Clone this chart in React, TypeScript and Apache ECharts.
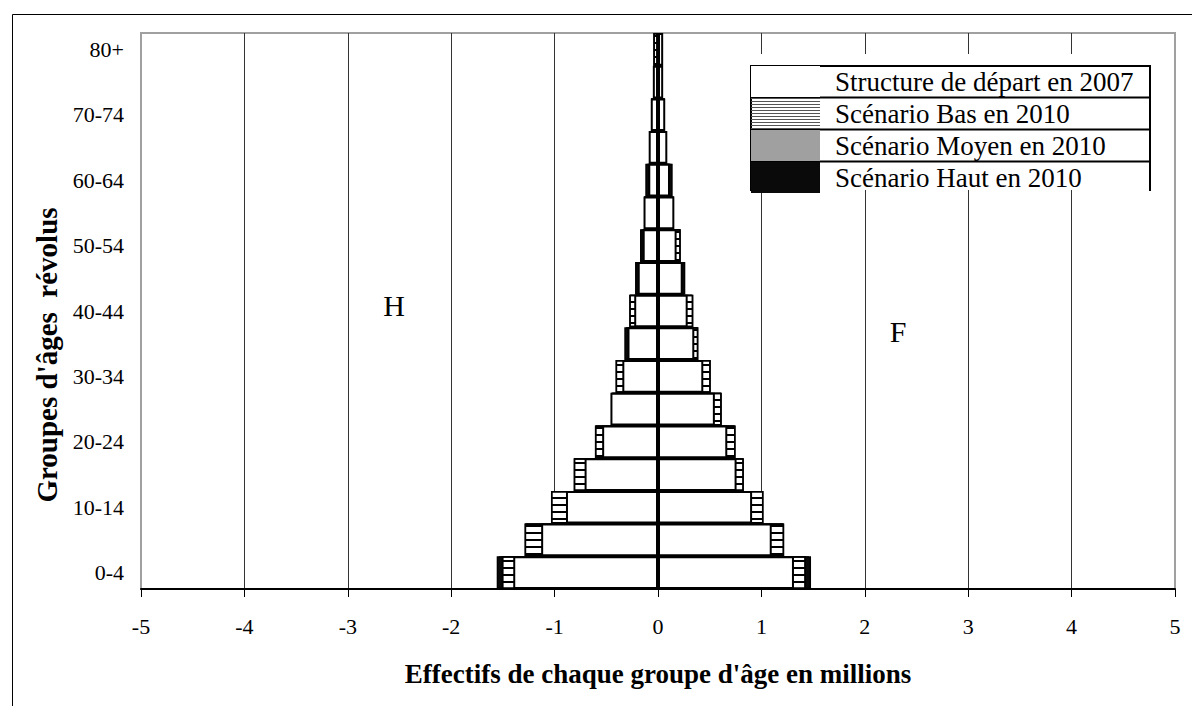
import React, { useEffect, useRef } from "react";
import * as echarts from "echarts";

const FONT = "'Liberation Serif', 'Times New Roman', Times, serif";

const ageGroups = [
  "0-4", "5-9", "10-14", "15-19", "20-24", "25-29", "30-34", "35-39", "40-44",
  "45-49", "50-54", "55-59", "60-64", "65-69", "70-74", "75-79", "80+",
];

// Hommes (millions)
const men2007 = [1.40, 1.13, 0.89, 0.71, 0.54, 0.46, 0.345, 0.295, 0.23, 0.196, 0.148, 0.14, 0.094, 0.09, 0.07, 0.05, 0.015];
const menBas = [1.51, 1.29, 1.035, 0.815, 0.61, 0.44, 0.41, 0.285, 0.278, 0.19, 0.14, 0.13, 0.09, 0.085, 0.065, 0.045, 0.045];
const menMoyen = [1.54, 1.28, 1.03, 0.81, 0.60, 0.45, 0.40, 0.31, 0.27, 0.21, 0.16, 0.135, 0.11, 0.085, 0.065, 0.045, 0.04];
const menHaut = [1.56, 1.28, 1.03, 0.81, 0.60, 0.45, 0.40, 0.326, 0.27, 0.222, 0.174, 0.135, 0.123, 0.085, 0.065, 0.045, 0.04];

// Femmes (millions)
const women2007 = [1.315, 1.10, 0.91, 0.76, 0.67, 0.55, 0.438, 0.351, 0.287, 0.239, 0.18, 0.158, 0.116, 0.09, 0.07, 0.05, 0.05];
const womenBas = [1.43, 1.22, 1.02, 0.83, 0.75, 0.616, 0.51, 0.39, 0.341, 0.23, 0.22, 0.15, 0.11, 0.085, 0.065, 0.045, 0.045];
const womenMoyen = [1.46, 1.21, 1.01, 0.82, 0.74, 0.61, 0.50, 0.38, 0.33, 0.25, 0.21, 0.15, 0.13, 0.085, 0.065, 0.045, 0.045];
const womenHaut = [1.48, 1.21, 1.01, 0.82, 0.74, 0.61, 0.50, 0.38, 0.33, 0.264, 0.21, 0.15, 0.142, 0.085, 0.065, 0.045, 0.045];

const N2007 = "Structure de départ en 2007";
const NBAS = "Scénario Bas en 2010";
const NMOYEN = "Scénario Moyen en 2010";
const NHAUT = "Scénario Haut en 2010";

const X_TITLE = "Effectifs de chaque groupe d'âge en millions";
const Y_TITLE = "Groupes d'âges  révolus";

function stripesIcon() {
  let d = "path://";
  for (let y = 0; y <= 30; y += 3) {
    d += `M0,${y}h69v1h-69z`;
  }
  return d;
}

const neg = (arr: number[]) => arr.map((v) => -v);

export default function App() {
  const ref = useRef<HTMLDivElement>(null);

  useEffect(() => {
    if (!ref.current) return;
    const chart = echarts.init(ref.current, undefined, { renderer: "svg" });

    const common = {
      type: "bar",
      barGap: "-100%",
      barCategoryGap: "0%",
      silent: true,
    };

    const moyenStyle = { color: "#a0a0a0", borderColor: "#000", borderWidth: 1.5 };
    const hautStyle = { color: "#0a0a0a", borderColor: "#000", borderWidth: 1.5 };
    const basStyle = {
      color: "#fff",
      borderColor: "#000",
      borderWidth: 1.5,
      decal: {
        symbol: "rect",
        symbolSize: 1,
        dashArrayX: [1, 0],
        dashArrayY: [2, 4.5],
        rotation: 0,
        color: "#000",
      },
    };
    const baseStyle = { color: "#fff", borderColor: "#000", borderWidth: 2 };

    const option = {
      animation: false,
      backgroundColor: "#fff",
      textStyle: { fontFamily: FONT },
      grid: {
        left: 141,
        right: 17,
        top: 33,
        bottom: 117,
        show: true,
        borderColor: "#a0a0a0",
        borderWidth: 2,
        backgroundColor: "transparent",
      },
      xAxis: {
        type: "value",
        min: -5,
        max: 5,
        interval: 1,
        axisLine: { show: true, onZero: false, lineStyle: { color: "#000", width: 2 } },
        axisTick: { show: true, length: 8, lineStyle: { color: "#000", width: 1 } },
        axisLabel: { fontSize: 22, color: "#000", margin: 26, fontFamily: FONT },
        splitLine: {
          show: true,
          showMinLine: false,
          showMaxLine: false,
          lineStyle: { color: "#333", width: 1 },
        },
        name: X_TITLE,
        nameLocation: "middle",
        nameGap: 71,
        nameTextStyle: { fontSize: 27, fontWeight: "bold", color: "#000", fontFamily: FONT },
      },
      yAxis: {
        type: "category",
        data: ageGroups,
        axisLine: { show: false },
        axisTick: { show: false },
        axisLabel: { interval: 1, fontSize: 22, color: "#000", margin: 17, fontFamily: FONT },
        splitLine: { show: false },
      },
      legend: {
        orient: "vertical",
        left: 751,
        top: 66,
        itemWidth: 69,
        itemHeight: 31,
        itemGap: 1,
        padding: 0,
        selectedMode: false,
        textStyle: { fontSize: 27, color: "#000", fontFamily: FONT, padding: [0, 0, 0, 10] },
        data: [
          { name: N2007, icon: "rect", itemStyle: { color: "#fff", borderWidth: 0, decal: "none" } },
          { name: NBAS, icon: stripesIcon(), itemStyle: { color: "#555", borderWidth: 0, decal: "none" } },
          { name: NMOYEN, icon: "rect", itemStyle: { color: "#a0a0a0", borderWidth: 0, decal: "none" } },
          { name: NHAUT, icon: "rect", itemStyle: { color: "#0a0a0a", borderWidth: 0, decal: "none" } },
        ],
      },
      graphic: [
        { type: "line", z: 10, shape: { x1: 12.5, y1: 14.5, x2: 1192, y2: 14.5 }, style: { stroke: "#000", lineWidth: 1 } },
        { type: "line", z: 10, shape: { x1: 12.5, y1: 14.5, x2: 12.5, y2: 706 }, style: { stroke: "#000", lineWidth: 1 } },
        { type: "rect", z: 3, shape: { x: 745, y: 54, width: 412, height: 136 }, style: { fill: "#fff" } },
        {
          type: "polyline",
          z: 3,
          shape: { points: [[751, 191], [751, 66], [1150, 66], [1150, 191]] },
          style: { stroke: "#000", lineWidth: 2, fill: null },
        },
        { type: "line", z: 3, shape: { x1: 751, y1: 97.5, x2: 1150, y2: 97.5 }, style: { stroke: "#000", lineWidth: 2 } },
        { type: "line", z: 3, shape: { x1: 751, y1: 129.5, x2: 1150, y2: 129.5 }, style: { stroke: "#000", lineWidth: 2 } },
        { type: "line", z: 3, shape: { x1: 751, y1: 161.5, x2: 1150, y2: 161.5 }, style: { stroke: "#000", lineWidth: 2 } },
        {
          type: "text",
          z: 3,
          x: 47,
          y: 355,
          rotation: Math.PI / 2,
          style: {
            text: Y_TITLE,
            fontSize: 29,
            fontWeight: "bold",
            fontFamily: FONT,
            fill: "#000",
            align: "center",
            verticalAlign: "middle",
          },
        },
        {
          type: "text",
          z: 3,
          x: 394,
          y: 305,
          style: { text: "H", fontSize: 30, fontFamily: FONT, fill: "#000", align: "center", verticalAlign: "middle" },
        },
        {
          type: "text",
          z: 3,
          x: 898,
          y: 331,
          style: { text: "F", fontSize: 30, fontFamily: FONT, fill: "#000", align: "center", verticalAlign: "middle" },
        },
      ],
      series: [
        { ...common, name: NMOYEN, data: neg(menMoyen), itemStyle: moyenStyle },
        { ...common, name: NMOYEN, data: womenMoyen, itemStyle: moyenStyle },
        { ...common, name: NHAUT, data: neg(menHaut), itemStyle: hautStyle },
        { ...common, name: NHAUT, data: womenHaut, itemStyle: hautStyle },
        { ...common, name: NBAS, data: neg(menBas), itemStyle: basStyle },
        { ...common, name: NBAS, data: womenBas, itemStyle: basStyle },
        { ...common, name: N2007, data: neg(men2007), itemStyle: baseStyle },
        {
          ...common,
          name: N2007,
          data: women2007,
          itemStyle: baseStyle,
          markLine: {
            silent: true,
            symbol: ["none", "none"],
            label: { show: false },
            lineStyle: { color: "#000", width: 2, type: "solid" },
            data: [{ xAxis: 0 }],
          },
        },
      ],
    };

    chart.setOption(option as any);
    return () => chart.dispose();
  }, []);

  return (
    <div
      ref={ref}
      style={{ position: "fixed", left: 0, top: 0, width: 1192, height: 706, background: "#fff" }}
    />
  );
}
